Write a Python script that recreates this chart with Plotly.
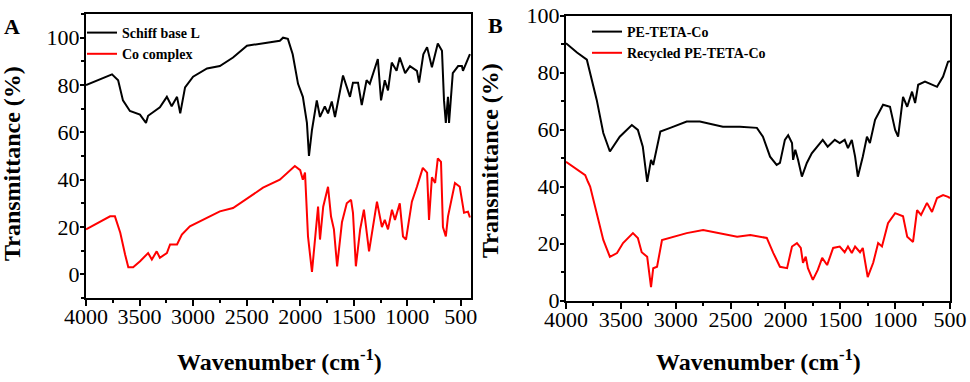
import plotly.graph_objects as go

# ---------------- Data ----------------
# Panel A
a_schiff_wn = [4000, 3757, 3700, 3655, 3590, 3496, 3440, 3420, 3310, 3245, 3200, 3150, 3120, 3075,
               3000, 2870, 2750, 2627, 2497, 2375, 2190, 2160, 2115, 2070, 2020, 1975, 1937, 1918,
               1890, 1845, 1815, 1770, 1740, 1705, 1675, 1600, 1535, 1507, 1460, 1425, 1380, 1350,
               1275, 1245, 1210, 1180, 1145, 1100, 1070, 1020, 975, 910, 890, 850, 815, 770, 715,
               676, 657, 640, 620, 610, 575, 525, 490, 480, 440, 415]
a_schiff_t = [80, 84.5, 82, 73.5, 69, 67.5, 64, 67, 70.6, 75, 71, 75, 68, 79,
              83.5, 87, 88, 91.6, 96.6, 97.5, 98.7, 100, 99.5, 93, 80.5, 75, 64, 50,
              61, 73.5, 66.5, 71, 68, 73, 66.5, 84, 75, 81, 81, 71.5, 82, 80.5,
              91, 73.5, 82, 77.7, 89.5, 86, 91.6, 85, 88, 86, 81, 93, 96, 87.5, 97.5,
              94.5, 73.5, 64, 75, 64, 85, 88, 88, 86, 90, 93]

a_co_wn = [4000, 3870, 3775, 3730, 3680, 3635, 3605, 3560, 3495, 3420, 3385, 3340, 3310, 3245,
           3215, 3150, 3105, 3030, 2870, 2750, 2627, 2470, 2347, 2190, 2050, 2000, 1975, 1955,
           1927, 1890, 1860, 1833, 1815, 1785, 1740, 1712, 1685, 1655, 1610, 1565, 1525, 1507,
           1480, 1440, 1405, 1357, 1283, 1237, 1210, 1180, 1143, 1115, 1070, 1040, 1012, 957,
           910, 855, 815, 797, 770, 740, 715, 685, 667, 640, 620, 555, 510, 470, 433, 415]
a_co_t = [19, 22, 24.5, 24.5, 17.6, 8.4, 3, 3, 5.5, 9, 6.3, 9.7, 7, 9,
          12.6, 12.6, 16.8, 20.3, 24, 26.6, 28, 33, 36.6, 40, 45.8, 44, 40, 43,
          16, 1, 16, 28.6, 14.7, 28.6, 37, 24.4, 19, 3.4, 22, 30, 31.5, 26,
          3.4, 19, 27.3, 9.7, 30.7, 20, 23, 19, 27.3, 23, 30, 16, 14.7, 30.7,
          37, 45, 43, 23, 41, 38.6, 49, 47.5, 20, 16, 24.4, 38.6, 37, 26, 26.5, 24]

# Panel B
b_pe_wn = [4000, 3900, 3810, 3765, 3720, 3660, 3600, 3510, 3400, 3345, 3300, 3260, 3225, 3205,
           3140, 3050, 2900, 2780, 2570, 2415, 2260, 2205, 2140, 2080, 2050, 2005, 1975, 1940,
           1930, 1910, 1885, 1850, 1805, 1760, 1715, 1660, 1615, 1550, 1505, 1460, 1430, 1395,
           1365, 1340, 1295, 1257, 1230, 1183, 1110, 1047, 1000, 973, 928, 890, 846, 818, 790,
           728, 618, 563, 518, 500]
b_pe_t = [90.3, 87, 84.5, 77.4, 70.4, 58.8, 52.3, 57.5, 61.6, 59.9, 54, 41.7, 49.4, 47.6,
          59.3, 60.6, 62.8, 62.8, 61, 61, 60.6, 57.5, 50.5, 47.6, 48.3, 56.4, 58, 55.3,
          49.4, 52.9, 49.4, 43.5, 48.3, 51.7, 54, 56.4, 54, 56.4, 55.3, 56.4, 53.5, 56.4,
          50.5, 43.5, 50.5, 57.5, 55.3, 63.4, 68.7, 68, 59.9, 57.5, 71.5, 68, 73.3, 69.3, 75.7,
          76.8, 75, 78.6, 83.8, 84]

b_rec_wn = [4000, 3900, 3825, 3800, 3780, 3720, 3660, 3600, 3535, 3480, 3390, 3345, 3310, 3260,
            3225, 3205, 3170, 3125, 3025, 2900, 2750, 2570, 2440, 2320, 2170, 2110, 2050, 1985,
            1940, 1895, 1860, 1840, 1815, 1795, 1750, 1705, 1665, 1620, 1565, 1505, 1460, 1430,
            1395, 1365, 1320, 1295, 1250, 1200, 1155, 1120, 1065, 1000, 928, 890, 837, 800, 764,
            710, 664, 618, 563, 518, 500]
b_rec_t = [48.7, 45.9, 44, 41.7, 40, 30.7, 21.3, 15.4, 16.7, 20.2, 23.7, 22, 17, 15.4,
           4.8, 11.4, 11.9, 21.3, 22.4, 23.7, 24.8, 23.4, 22.4, 23, 22, 16.7, 11.9, 11.4,
           19, 20.2, 18.5, 13.3, 15.4, 11.4, 7.3, 10.8, 15, 12.5, 18.5, 19, 17, 19,
           16.7, 19, 17, 18.5, 8.3, 13.3, 20.2, 19, 27.2, 30.7, 29.6, 22.4, 20.6, 31.8, 30.1,
           34.3, 31.1, 36, 37, 36.4, 36]

x_ticks = [4000, 3500, 3000, 2500, 2000, 1500, 1000, 500]
y_ticks = [0, 20, 40, 60, 80, 100]

# ---------------- Figure ----------------
W, H = 970, 382
SERIF = "Liberation Serif"

def px_x(p):
    return p / W

def px_y(p):
    return 1 - p / H

fig = go.Figure()

fig.add_trace(go.Scatter(x=a_schiff_wn, y=a_schiff_t, mode="lines", name="<b>Schiff base L</b>",
                         line=dict(color="black", width=2), xaxis="x", yaxis="y", legend="legend"))
fig.add_trace(go.Scatter(x=a_co_wn, y=a_co_t, mode="lines", name="<b>Co complex</b>",
                         line=dict(color="#ff0000", width=2), xaxis="x", yaxis="y", legend="legend"))
fig.add_trace(go.Scatter(x=b_pe_wn, y=b_pe_t, mode="lines", name="<b>PE-TETA-Co</b>",
                         line=dict(color="black", width=2), xaxis="x2", yaxis="y2", legend="legend2"))
fig.add_trace(go.Scatter(x=b_rec_wn, y=b_rec_t, mode="lines", name="<b>Recycled PE-TETA-Co</b>",
                         line=dict(color="#ff0000", width=2), xaxis="x2", yaxis="y2", legend="legend2"))

def axis_common(ticklen, standoff):
    return dict(showline=True, linecolor="black", linewidth=2, mirror=True,
                ticks="outside", ticklen=ticklen, tickwidth=1.5, tickcolor="black",
                showgrid=False, zeroline=False, automargin=False,
                ticklabelstandoff=standoff,
                tickfont=dict(family=SERIF, size=22, color="black"))

def minor(dt):
    return dict(dtick=dt, tick0=0, ticks="outside", ticklen=3, tickwidth=1.5, tickcolor="black",
                showgrid=False)

A_L, A_R, A_T, A_B = 86, 471, 14, 298
B_L, B_R, B_T, B_B = 566, 950, 15.5, 300.7

fig.update_layout(
    template="none",
    font=dict(family=SERIF, color="black"),
    width=W, height=H, margin=dict(l=0, r=0, t=0, b=0, autoexpand=False),
    paper_bgcolor="white", plot_bgcolor="white",
    xaxis=dict(domain=[px_x(A_L), px_x(A_R)], anchor="y", range=[4000, 405], tickvals=x_ticks,
               minor=minor(250), **axis_common(6, -8)),
    yaxis=dict(domain=[px_y(A_B), px_y(A_T)], anchor="x", range=[-10, 110], tickvals=y_ticks,
               minor=minor(10), **axis_common(4, -4)),
    xaxis2=dict(domain=[px_x(B_L), px_x(B_R)], anchor="y2", range=[4000, 500], tickvals=x_ticks,
                minor=minor(250), **axis_common(6, -8)),
    yaxis2=dict(domain=[px_y(B_B), px_y(B_T)], anchor="x2", range=[0, 100], tickvals=y_ticks,
                minor=minor(10), **axis_common(4, -4)),
    legend=dict(x=px_x(82), y=px_y(17), xanchor="left", yanchor="top", bgcolor="rgba(0,0,0,0)",
                font=dict(family=SERIF, size=14, color="black"), tracegroupgap=0, borderwidth=0),
    legend2=dict(x=px_x(587), y=px_y(16), xanchor="left", yanchor="top", bgcolor="rgba(0,0,0,0)",
                 font=dict(family=SERIF, size=14, color="black"), tracegroupgap=0, borderwidth=0),
    showlegend=True,
)

title_font = dict(family=SERIF, size=24, color="black")

def ann(text, x, y, size, angle=0):
    return dict(text=text, x=px_x(x), y=px_y(y), xref="paper", yref="paper", showarrow=False,
                xanchor="center", yanchor="middle", textangle=angle,
                font=dict(family=SERIF, size=size, color="black"))

annotations = [
    ann("<b>A</b>", 12, 26, 22),
    ann("<b>B</b>", 496, 25, 22),
    ann("<b>Transmittance (%)</b>", 12, 164, 24, -90),
    ann("<b>Transmittance (%)</b>", 490, 161, 24, -90),
    ann("<b>Wavenumber (cm<sup>-1</sup>)</b>", 279, 360, 24),
    ann("<b>Wavenumber (cm<sup>-1</sup>)</b>", 758, 360, 24),
]
fig.update_layout(annotations=annotations)

fig.write_html("out.html")
